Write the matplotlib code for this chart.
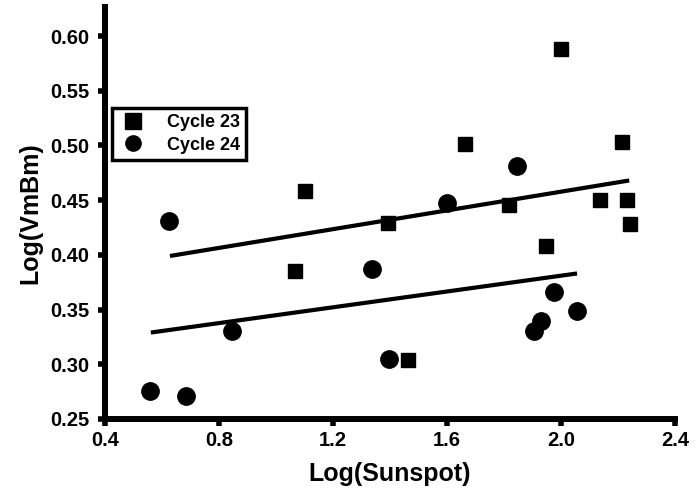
import numpy as np
import matplotlib.pyplot as plt
from matplotlib.ticker import MultipleLocator

plt.rcParams['font.family'] = ['Liberation Sans', 'DejaVu Sans']
plt.rcParams['font.weight'] = 'bold'

# Cycle 23 (kotak)
x23 = [1.663, 2.000, 2.214, 2.137, 2.232, 2.242, 1.818, 1.393, 1.947, 1.102, 1.067, 1.463]
y23 = [0.501, 0.588, 0.503, 0.450, 0.450, 0.428, 0.446, 0.429, 0.408, 0.458, 0.385, 0.304]

# Cycle 24 (lingkaran)
x24 = [0.625, 1.600, 1.846, 0.558, 0.684, 0.846, 1.337, 1.397, 1.975, 2.056, 1.930, 1.905]
y24 = [0.431, 0.447, 0.481, 0.276, 0.271, 0.330, 0.387, 0.305, 0.366, 0.349, 0.340, 0.330]

# Garis fit (ujung-ujungnya)
fit23_x = [0.628, 2.239]
fit23_y = [0.399, 0.468]
fit24_x = [0.561, 2.056]
fit24_y = [0.329, 0.383]

fig = plt.figure(figsize=(6.97, 4.97), dpi=100)
ax = fig.add_axes([0.1506, 0.157, 0.818, 0.829])

ax.plot(fit23_x, fit23_y, color='black', lw=3, solid_capstyle='butt')
ax.plot(fit24_x, fit24_y, color='black', lw=3, solid_capstyle='butt')
ax.plot(x23, y23, 's', color='black', ms=10.5, label='Cycle 23', linestyle='none')
ax.plot(x24, y24, 'o', color='black', ms=12.5, label='Cycle 24', linestyle='none')

ax.set_xlim(0.4, 2.4)
ax.set_ylim(0.25, 0.6266)
ax.xaxis.set_major_locator(MultipleLocator(0.4))
ax.xaxis.set_minor_locator(MultipleLocator(0.2))
ax.yaxis.set_major_locator(MultipleLocator(0.05))
ax.yaxis.set_minor_locator(MultipleLocator(0.025))
ax.xaxis.set_major_formatter(lambda v, p: f'{v:.1f}')
ax.yaxis.set_major_formatter(lambda v, p: f'{v:.2f}')

for s in ['top', 'right']:
    ax.spines[s].set_visible(False)
for s in ['left', 'bottom']:
    ax.spines[s].set_linewidth(4.3)

ax.tick_params(which='major', direction='out', length=5, width=4, labelsize=14.5, pad=4)
ax.tick_params(axis='y', which='major', pad=6)
ax.tick_params(which='minor', direction='out', length=2, width=3)

ax.set_xlabel('Log(Sunspot)', fontsize=18, fontweight='bold', labelpad=8)
ax.set_ylabel('Log(VmBm)', fontsize=18, fontweight='bold', labelpad=6)

leg = ax.legend(loc='upper left', bbox_to_anchor=(0.012, 0.755), borderaxespad=0,
                fancybox=False, edgecolor='black', framealpha=1, handletextpad=1.1,
                borderpad=0.35, labelspacing=0.3, handlelength=1.6,
                prop={'weight': 'bold', 'size': 13})
leg.get_frame().set_linewidth(2.5)
for h in leg.legend_handles:
    h.set_markersize(11)

plt.savefig('out.png', dpi=100)
